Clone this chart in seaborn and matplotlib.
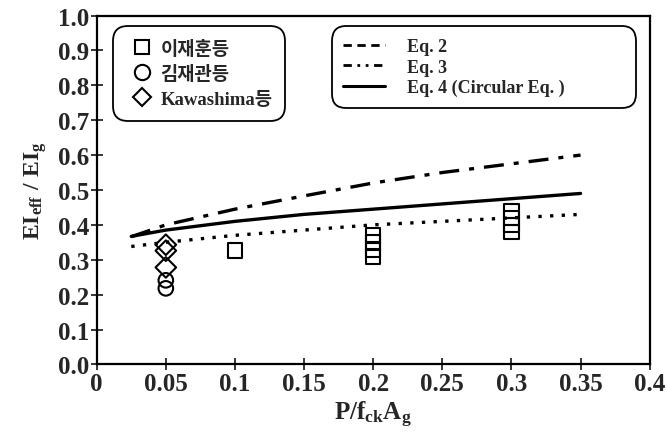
import pandas as pd
import matplotlib.pyplot as plt
import seaborn as sns
from matplotlib.lines import Line2D

lee_x = [0.1, 0.2, 0.2, 0.2, 0.2, 0.3, 0.3, 0.3, 0.3]
lee_y = [0.326, 0.31, 0.33, 0.35, 0.37, 0.38, 0.40, 0.42, 0.44]
kim_x = [0.05, 0.05]
kim_y = [0.241, 0.218]
kawa_x = [0.05, 0.05, 0.05]
kawa_y = [0.343, 0.326, 0.278]

# equation curves
eq_x = [0.025, 0.05, 0.1, 0.15, 0.2, 0.25, 0.3, 0.35]
eq2_y = [0.366, 0.40, 0.445, 0.483, 0.52, 0.55, 0.575, 0.60]
eq3_y = [0.338, 0.35, 0.37, 0.385, 0.40, 0.41, 0.42, 0.43]
eq4_y = [0.367, 0.385, 0.41, 0.43, 0.445, 0.46, 0.475, 0.49]

x_ticks = [0, 0.05, 0.1, 0.15, 0.2, 0.25, 0.3, 0.35, 0.4]
x_ticklabels = ['0', '0.05', '0.1', '0.15', '0.2', '0.25', '0.3', '0.35', '0.4']

sns.set_style('ticks')
plt.rcParams['font.family'] = ['Liberation Serif', 'Noto Sans CJK KR']
plt.rcParams['font.weight'] = 'bold'
plt.rcParams['mathtext.fontset'] = 'custom'
plt.rcParams['mathtext.rm'] = 'Liberation Serif:bold'
plt.rcParams['mathtext.bf'] = 'Liberation Serif:bold'
plt.rcParams['mathtext.it'] = 'Liberation Serif:bold'

fig, ax = plt.subplots(figsize=(6.67, 4.35), dpi=100)
fig.subplots_adjust(left=0.145, right=0.974, top=0.962, bottom=0.16)

curves = pd.DataFrame({'x': eq_x, 'eq2': eq2_y, 'eq3': eq3_y, 'eq4': eq4_y})
sns.lineplot(data=curves, x='x', y='eq2', ax=ax, color='black', lw=2.4,
             linestyle=(0, (6, 3, 1.5, 3)))
sns.lineplot(data=curves, x='x', y='eq3', ax=ax, color='black', lw=2.4,
             linestyle=(0, (1, 2.5)))
sns.lineplot(data=curves, x='x', y='eq4', ax=ax, color='black', lw=2.4)

pts = dict(color='none', edgecolor='black', linewidth=1.5, s=110, zorder=3)
sns.scatterplot(x=lee_x, y=lee_y, marker='s', ax=ax, **pts)
sns.scatterplot(x=kim_x, y=kim_y, marker='o', ax=ax, **pts)
sns.scatterplot(x=kawa_x, y=kawa_y, marker='D', ax=ax, **pts)

ax.set_xlim(0, 0.4)
ax.set_ylim(0, 1.0)
ax.set_xticks(x_ticks)
ax.set_xticklabels(x_ticklabels)
ax.set_yticks([i / 10 for i in range(11)])
ax.set_yticklabels([f'{i / 10:.1f}' for i in range(11)])
ax.tick_params(direction='inout', length=9, width=1.3, labelsize=18, pad=1)
for sp in ax.spines.values():
    sp.set_linewidth(1.6)
    sp.set_color('black')

ax.set_xlabel(r'$\mathrm{P/f_{ck}A_g}$', fontsize=18, labelpad=3)
ax.set_ylabel(r'$\mathrm{EI_{eff}\ /\ EI_g}$', fontsize=17, labelpad=6)

mk = dict(color='black', markerfacecolor='none', markeredgewidth=1.5,
          linestyle='none')
h1 = [Line2D([], [], marker='s', markersize=10, **mk),
      Line2D([], [], marker='o', markersize=11, **mk),
      Line2D([], [], marker='D', markersize=9, **mk)]
leg1 = ax.legend(h1, ['이재훈등', '김재관등', 'Kawashima등'], loc='upper left',
                 bbox_to_anchor=(0.02, 0.985), fontsize=13.5, handletextpad=0.2,
                 handlelength=1.6, labelspacing=0.4, borderpad=0.5,
                 frameon=True, fancybox=True, edgecolor='black', framealpha=1)
leg1.get_frame().set_linewidth(1.3)
leg1.get_frame().set_boxstyle('round', pad=0.2, rounding_size=0.8)
ax.add_artist(leg1)

h2 = [Line2D([], [], color='black', lw=2, linestyle=(0, (3, 2))),
      Line2D([], [], color='black', lw=2, linestyle=(0, (3, 2, 1, 2, 1, 2))),
      Line2D([], [], color='black', lw=2.2)]
leg2 = ax.legend(h2, ['Eq. 2', 'Eq. 3', 'Eq. 4 (Circular Eq. )'], loc='upper left',
                 bbox_to_anchor=(0.415, 0.985, 0.57, 0.0), mode='expand',
                 fontsize=13, handlelength=2.3,
                 handletextpad=1.2, labelspacing=0.2, borderpad=0.45,
                 frameon=True, fancybox=True, edgecolor='black', framealpha=1)
leg2.get_frame().set_linewidth(1.3)
leg2.get_frame().set_boxstyle('round', pad=0.2, rounding_size=0.8)

fig.savefig('out.png', dpi=100)
